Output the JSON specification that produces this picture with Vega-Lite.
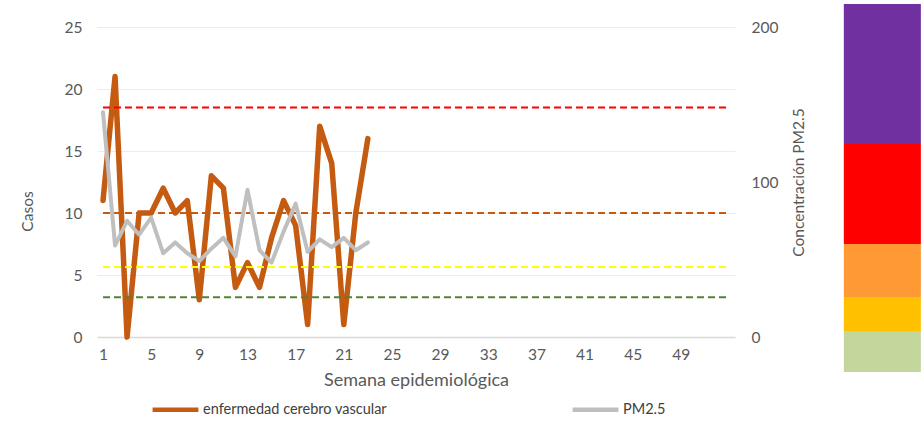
{
  "$schema": "https://vega.github.io/schema/vega-lite/v6.json",
  "autosize": {"type": "none"},
  "padding": {"left": 97, "top": 27, "right": 186, "bottom": 85},
  "width": 638,
  "height": 310,
  "background": "#ffffff",
  "config": {
    "view": {"stroke": null},
    "font": "Lato",
    "axis": {"labelFont": "Lato", "titleFont": "Lato", "labelColor": "#595959", "titleColor": "#595959", "labelFontSize": 15.5, "titleFontSize": 15.5, "titleFontWeight": "normal", "ticks": false},
    "legend": {"labelFont": "Lato", "labelFontSize": 14.5, "labelColor": "#404040", "labelLimit": 400}
  },
  "datasets": {
    "casos": [
      {"semana": 1, "casos": 11}, {"semana": 2, "casos": 21}, {"semana": 3, "casos": 0}, {"semana": 4, "casos": 10},
      {"semana": 5, "casos": 10}, {"semana": 6, "casos": 12}, {"semana": 7, "casos": 10}, {"semana": 8, "casos": 11},
      {"semana": 9, "casos": 3}, {"semana": 10, "casos": 13}, {"semana": 11, "casos": 12}, {"semana": 12, "casos": 4},
      {"semana": 13, "casos": 6}, {"semana": 14, "casos": 4}, {"semana": 15, "casos": 8}, {"semana": 16, "casos": 11},
      {"semana": 17, "casos": 9}, {"semana": 18, "casos": 1}, {"semana": 19, "casos": 17}, {"semana": 20, "casos": 14},
      {"semana": 21, "casos": 1}, {"semana": 22, "casos": 10}, {"semana": 23, "casos": 16}
    ],
    "pm25": [
      {"semana": 1, "pm25": 145}, {"semana": 2, "pm25": 59}, {"semana": 3, "pm25": 75}, {"semana": 4, "pm25": 66},
      {"semana": 5, "pm25": 77}, {"semana": 6, "pm25": 54}, {"semana": 7, "pm25": 61}, {"semana": 8, "pm25": 54},
      {"semana": 9, "pm25": 49}, {"semana": 10, "pm25": 57}, {"semana": 11, "pm25": 64}, {"semana": 12, "pm25": 52},
      {"semana": 13, "pm25": 95}, {"semana": 14, "pm25": 56}, {"semana": 15, "pm25": 48}, {"semana": 16, "pm25": 68},
      {"semana": 17, "pm25": 86}, {"semana": 18, "pm25": 55}, {"semana": 19, "pm25": 63}, {"semana": 20, "pm25": 58},
      {"semana": 21, "pm25": 64}, {"semana": 22, "pm25": 56}, {"semana": 23, "pm25": 61}
    ],
    "umbrales": [
      {"umbral": "rojo", "casos": 18.5},
      {"umbral": "naranja", "casos": 10},
      {"umbral": "amarillo", "casos": 5.65},
      {"umbral": "verde", "casos": 3.2}
    ],
    "escala": [
      {"nivel": "morado", "desde": 124.5, "hasta": 214.8},
      {"nivel": "rojo", "desde": 60, "hasta": 124.5},
      {"nivel": "naranja", "desde": 25.8, "hasta": 60},
      {"nivel": "amarillo", "desde": 3.9, "hasta": 25.8},
      {"nivel": "verde", "desde": -22.6, "hasta": 3.9}
    ]
  },
  "layer": [
    {
      "layer": [
        {
          "data": {"name": "casos"},
          "mark": {"type": "line", "strokeWidth": 5.5, "strokeJoin": "round", "strokeCap": "round"},
          "encoding": {
            "x": {"field": "semana", "type": "quantitative",
              "scale": {"domain": [0.5, 53.5], "nice": false, "zero": false},
              "axis": {"values": [1, 5, 9, 13, 17, 21, 25, 29, 33, 37, 41, 45, 49], "grid": false, "domainColor": "#d9d9d9", "domainWidth": 1.5, "labelPadding": 10, "title": "Semana epidemiológica", "titleFontSize": 18, "titlePadding": 9}},
            "y": {"field": "casos", "type": "quantitative",
              "scale": {"domain": [0, 25], "nice": false},
              "axis": {"values": [0, 5, 10, 15, 20, 25], "grid": true, "gridColor": "#ececec", "domain": false, "labelPadding": 15, "title": "Casos", "titleX": -70, "titleY": 184, "titleBaseline": "middle"}},
            "color": {"datum": "enfermedad cerebro vascular", "type": "nominal",
              "scale": {"domain": ["enfermedad cerebro vascular", "PM2.5"], "range": ["#C55A11", "#BFBFBF"]},
              "legend": {"title": null, "orient": "none", "legendX": 53, "legendY": 357, "direction": "horizontal", "symbolType": "stroke", "symbolSize": 2100, "symbolStrokeWidth": 4.5, "labelOffset": 2, "columnPadding": 176}}
          }
        },
        {
          "data": {"name": "umbrales"},
          "mark": {"type": "rule", "strokeDash": [7, 4], "strokeWidth": 2},
          "encoding": {
            "x": {"datum": 1},
            "x2": {"datum": 53},
            "y": {"field": "casos", "type": "quantitative"},
            "stroke": {"field": "umbral", "type": "nominal",
              "scale": {"domain": ["rojo", "naranja", "amarillo", "verde"], "range": ["#FF0000", "#C55A11", "#FFFF00", "#548235"]},
              "legend": null}
          }
        }
      ]
    },
    {
      "layer": [
        {
          "data": {"name": "pm25"},
          "mark": {"type": "line", "strokeWidth": 4, "strokeJoin": "round", "strokeCap": "round"},
          "encoding": {
            "x": {"field": "semana", "type": "quantitative"},
            "y": {"field": "pm25", "type": "quantitative",
              "scale": {"domain": [0, 200], "nice": false},
              "axis": {"orient": "right", "values": [0, 100, 200], "grid": false, "domain": false, "labelPadding": 16, "title": "Concentración PM2.5", "titleAngle": -90, "titleX": 63, "titleY": 155, "titleBaseline": "middle"}},
            "color": {"datum": "PM2.5", "type": "nominal"}
          }
        },
        {
          "data": {"name": "escala"},
          "mark": {"type": "rect"},
          "encoding": {
            "x": {"datum": 62.54},
            "x2": {"datum": 68.94},
            "y": {"field": "desde", "type": "quantitative"},
            "y2": {"field": "hasta"},
            "fill": {"field": "nivel", "type": "nominal",
              "scale": {"domain": ["morado", "rojo", "naranja", "amarillo", "verde"], "range": ["#7030A0", "#FF0000", "#FF9933", "#FFC000", "#C3D69B"]},
              "legend": null}
          }
        }
      ]
    }
  ],
  "resolve": {"scale": {"y": "independent"}}
}
